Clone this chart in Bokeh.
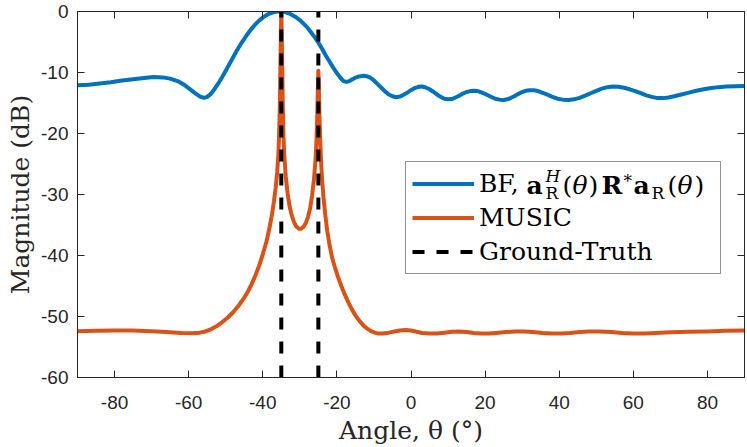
from bokeh.plotting import figure
from bokeh.models import (FixedTicker, LinearAxis, Legend, LegendItem, Label,
                          CustomJSTickFormatter)
from bokeh.embed import file_html
from bokeh.resources import INLINE

# ---------------- data ----------------
bf_angle = [-90, -87, -84, -81, -78, -75, -72, -69.5, -67, -65, -63, -61, -59.5,
            -58, -56.8, -55.8, -55, -54, -53, -52, -51, -50, -49, -48, -47, -46,
            -45, -44, -43, -42, -41, -40, -39, -38, -37, -36, -35, -34, -33,
            -32, -31, -30, -29, -28, -27, -26, -25, -24, -23, -22, -21, -20,
            -19, -18.2, -17.4, -16.6, -15.8, -15, -14, -13, -12, -11, -10, -9,
            -8, -7, -6, -5, -4, -3, -2, -1, 0, 1, 2, 3, 4, 5, 6, 7, 8, 9, 10,
            11, 12, 13, 14, 15, 16, 17, 18, 19, 20, 21, 22, 23, 24, 25, 26, 27,
            28, 29, 30, 31, 32, 33, 34, 35, 36.5, 38, 39.5, 41, 42.5, 44, 45.5,
            47, 48.5, 50, 51.5, 53, 54.5, 56, 57.5, 59, 60.5, 62, 63.5, 65,
            66.5, 68, 69.5, 71, 73, 75, 77, 79, 81, 83, 85, 87.5, 90]
bf_db = [-12.1, -12.0, -11.8, -11.6, -11.3, -11.1, -10.9, -10.75, -10.8, -11.0,
         -11.4, -12.1, -12.8, -13.5, -14.0, -14.15, -14.0, -13.5, -12.7, -11.8,
         -10.8, -9.7, -8.6, -7.5, -6.4, -5.4, -4.5, -3.6, -2.8, -2.1, -1.5,
         -1.0, -0.6, -0.3, -0.1, -0.02, 0.0, -0.1, -0.3, -0.6, -0.95, -1.4,
         -2.0, -2.6, -3.4, -4.2, -5.1, -6.1, -7.2, -8.2, -9.2, -10.1, -10.9,
         -11.4, -11.55, -11.4, -11.1, -10.85, -10.65, -10.55, -10.6, -10.85,
         -11.3, -11.9, -12.5, -13.1, -13.6, -13.9, -14.05, -13.95, -13.65,
         -13.3, -12.9, -12.55, -12.35, -12.3, -12.45, -12.75, -13.15, -13.6,
         -14.0, -14.3, -14.4, -14.35, -14.1, -13.8, -13.45, -13.2, -13.05,
         -13.0, -13.05, -13.25, -13.5, -13.8, -14.1, -14.35, -14.45, -14.5,
         -14.4, -14.15, -13.85, -13.5, -13.2, -13.0, -12.9, -12.9, -13.0,
         -13.2, -13.55, -13.95, -14.3, -14.45, -14.5, -14.4, -14.15, -13.8,
         -13.4, -13.0, -12.65, -12.4, -12.3, -12.35, -12.5, -12.75, -13.05,
         -13.4, -13.75, -14.0, -14.2, -14.2, -14.1, -13.9, -13.6, -13.3,
         -13.0, -12.75, -12.55, -12.4, -12.3, -12.25, -12.2]

music_angle = [-90, -85, -80, -75, -70, -66, -62, -59, -57, -55.5, -54, -52.5,
               -51, -49.5, -48, -46.5, -45, -44, -43, -42, -41, -40, -39,
               -38.2, -37.5, -37, -36.5, -36.1, -35.8, -35.6, -35.4, -35.25,
               -35.1, -35, -34.9, -34.75, -34.6, -34.4, -34.2, -33.8, -33.3,
               -32.8, -32.2, -31.6, -31, -30.3, -29.6, -29, -28.4, -27.8,
               -27.2, -26.7, -26.2, -25.8, -25.5, -25.3, -25.15, -25, -24.85,
               -24.7, -24.5, -24.3, -24.0, -23.6, -23.1, -22.6, -22, -21.3,
               -20.5, -19.7, -18.8, -17.8, -16.8, -15.8, -14.8, -13.8, -12.8,
               -11.8, -10.8, -9.8, -8.8, -7.5, -6, -4.5, -3, -1.5, 0, 1.5, 3,
               5, 7, 9, 11, 13, 15, 17, 19, 21, 23, 25.5, 28, 30.5, 33, 35.5,
               38, 40.5, 43, 45.5, 48, 51, 54, 57, 60, 63, 66, 70, 75, 80, 85,
               90]
music_db = [-52.4, -52.35, -52.3, -52.3, -52.4, -52.55, -52.7, -52.75, -52.65,
            -52.45, -52.1, -51.6, -50.95, -50.2, -49.3, -48.2, -46.9, -45.9,
            -44.7, -43.3, -41.7, -39.8, -37.7, -35.5, -33.2, -31.2, -28.8,
            -26.3, -23.5, -20.5, -15.5, -9.0, -3.0, 0.0, -3.0, -9.0, -15.5,
            -20.5, -23.5, -27.0, -29.8, -31.8, -33.4, -34.5, -35.2, -35.6,
            -35.6, -35.3, -34.7, -33.7, -32.2, -30.2, -27.6, -24.6, -21.0,
            -17.0, -13.0, -9.7, -13.0, -17.0, -21.0, -24.3, -27.5, -30.5,
            -33.5, -36.0, -38.2, -40.3, -42.0, -43.5, -45.0, -46.5, -47.8,
            -49.0, -50.0, -50.8, -51.5, -52.0, -52.4, -52.65, -52.8, -52.8,
            -52.65, -52.45, -52.3, -52.2, -52.3, -52.5, -52.7, -52.8, -52.8,
            -52.65, -52.5, -52.45, -52.55, -52.7, -52.8, -52.8, -52.7, -52.55,
            -52.45, -52.45, -52.55, -52.7, -52.8, -52.8, -52.7, -52.55, -52.45,
            -52.45, -52.55, -52.7, -52.8, -52.8, -52.7, -52.6, -52.5, -52.45,
            -52.35, -52.3]

truth_angle = [-35, -25]

x_ticks = [-80, -60, -40, -20, 0, 20, 40, 60, 80]
y_ticks = [-60, -50, -40, -30, -20, -10, 0]
x_lim = (-90, 90)
y_lim = (-60, 0)

# ---------------- styling ----------------
BLUE = "#0072BD"
ORANGE = "#D95319"
AX = "#262626"
SERIF = "DejaVu Serif"
SANS = "Liberation Sans"

W, H = 747, 447
ML, MR, MT, MB = 77, 3, 11, 69

p = figure(width=W, height=H, x_range=x_lim, y_range=y_lim,
           output_backend="svg", toolbar_location=None,
           min_border_left=ML, min_border_right=MR,
           min_border_top=MT, min_border_bottom=MB,
           x_axis_label="Angle, θ (°)", y_axis_label="Magnitude (dB)")
p.xgrid.visible = False
p.ygrid.visible = False
p.outline_line_color = AX
p.outline_line_width = 1
p.background_fill_color = "white"

xa = p.below[0]
ya = p.left[0]
xa.ticker = FixedTicker(ticks=x_ticks)
ya.ticker = FixedTicker(ticks=y_ticks)
xa.major_label_overrides = {t: str(t) for t in x_ticks}
ya.major_label_overrides = {t: str(t) for t in y_ticks}
for ax in (xa, ya):
    ax.axis_line_color = AX
    ax.axis_line_width = 1
    ax.major_tick_line_color = AX
    ax.major_tick_in = 7
    ax.major_tick_out = 0
    ax.minor_tick_line_color = None
    ax.major_label_text_font = SANS
    ax.major_label_text_font_size = "19px"
    ax.major_label_text_color = AX
    ax.major_label_text_line_height = 1.0
    ax.axis_label_text_font = SERIF
    ax.axis_label_text_font_size = "25px"
    ax.axis_label_text_font_style = "normal"
    ax.axis_label_text_color = AX
    ax.axis_label_text_line_height = 1.0
xa.major_label_standoff = 18
xa.axis_label_standoff = 4
ya.major_label_standoff = 9
ya.axis_label_standoff = 3

for side, ticks in (("above", x_ticks), ("right", y_ticks)):
    ex = LinearAxis(ticker=FixedTicker(ticks=ticks),
                    formatter=CustomJSTickFormatter(code="return ''"),
                    major_tick_in=7, major_tick_out=0,
                    minor_tick_line_color=None, major_label_standoff=0,
                    axis_line_color=AX, major_tick_line_color=AX)
    p.add_layout(ex, side)

r_bf = p.line(bf_angle, bf_db, line_color=BLUE, line_width=4, line_join="round")
r_mu = p.line(music_angle, music_db, line_color=ORANGE, line_width=4, line_join="round")
r_gt = p.multi_line(xs=[[a, a] for a in truth_angle],
                    ys=[[y_lim[0], y_lim[1]] for a in truth_angle],
                    line_color="black", line_width=4, line_dash="12 12")

LEG_X, LEG_Y, LEG_H = 328, 103, 111
legend = Legend(items=[LegendItem(label="BF,", renderers=[r_bf]),
                       LegendItem(label="MUSIC", renderers=[r_mu]),
                       LegendItem(label="Ground-Truth", renderers=[r_gt])],
                location=(LEG_X, LEG_Y), margin=0, padding=6, spacing=3,
                glyph_width=62, glyph_height=31, label_height=31,
                label_width=235, label_standoff=5,
                label_text_font=SERIF, label_text_font_size="25px",
                label_text_color="black",
                border_line_color=AX, border_line_width=1,
                background_fill_alpha=0.0)
p.add_layout(legend)

# math part of the first legend label: a_R^H(θ) R* a_R(θ)
ROW1 = LEG_Y + LEG_H - 6 - 15.5      # row centre, px above frame bottom
pieces = [("a", 526, 0, 25, "bold"), ("H", 545, -9.2, 17, "italic"),
          ("R", 545, 7.75, 17, "normal"), ("(", 562, 0, 25, "normal"),
          ("θ", 572, 0, 25, "italic"), (")", 588, 0, 25, "normal"),
          ("R", 601, 0, 25, "bold"), ("*", 623, -4.2, 17, "normal"),
          ("a", 633, 0, 25, "bold"), ("R", 651, 7.75, 17, "normal"),
          ("(", 667, 0, 25, "normal"), ("θ", 677, 0, 25, "italic"),
          (")", 694, 0, 25, "normal")]
for txt, xc, dy, size, style in pieces:
    p.add_layout(Label(x=xc - ML, y=ROW1 - dy, x_units="screen",
                       y_units="screen", text=txt, level="overlay",
                       text_font=SERIF, text_font_size=f"{size}px",
                       text_font_style=style, text_baseline="middle",
                       text_align="left", text_color="black"))

open("out.html", "w").write(file_html(p, INLINE))
